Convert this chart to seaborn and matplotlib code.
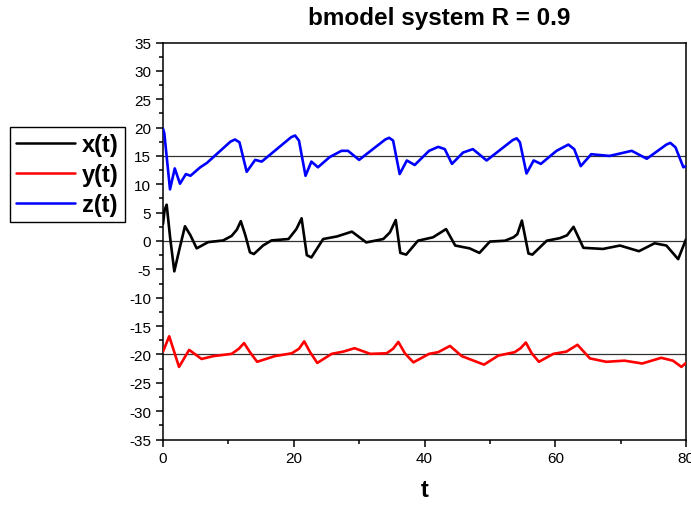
import numpy as np
import pandas as pd
import matplotlib
matplotlib.use("Agg")
import matplotlib.pyplot as plt
import seaborn as sns
from matplotlib.ticker import MultipleLocator

# x(t) readings
x_t = [0, 0.25, 0.56, 1.1, 1.73, 2.5, 3.36, 4.2, 5.15, 6.9, 9.2, 10.5, 11.3, 11.9, 12.6,
       13.3, 13.9, 15.3, 16.6, 19.2, 20.4, 21.2, 22.0, 22.7, 24.5, 26.6, 28.9, 31.1, 33.7,
       34.7, 35.6, 36.3, 37.2, 39.0, 41.3, 43.3, 44.7, 46.9, 48.4, 50.0, 52.3, 53.6, 54.2,
       54.9, 55.9, 56.5, 58.7, 60.7, 61.8, 62.8, 64.3, 67.3, 69.9, 72.8, 75.2, 77.0, 78.8, 80]
x_vals = [3.0, 5.5, 6.4, 0.5, -5.35, -1.5, 2.6, 1.0, -1.3, -0.2, 0.1, 0.9, 2.0, 3.5, 1.0,
          -2.0, -2.3, -0.8, 0.1, 0.35, 2.1, 4.0, -2.5, -2.9, 0.35, 0.8, 1.65, -0.25, 0.35,
          1.5, 3.7, -2.1, -2.4, 0.05, 0.65, 2.1, -0.8, -1.3, -2.1, -0.1, 0.05, 0.65, 1.2,
          3.6, -2.2, -2.4, 0.05, 0.5, 1.0, 2.5, -1.2, -1.4, -0.8, -1.8, -0.4, -0.8, -3.2, 0.3]

# y(t) readings
y_t = [0, 0.95, 2.45, 4.0, 5.9, 7.7, 10.5, 11.6, 12.4, 13.3, 14.4, 17.1, 19.7, 20.8, 21.6,
       22.5, 23.6, 25.8, 27.6, 29.3, 31.7, 34.2, 35.2, 36.0, 37.0, 38.3, 40.7, 42.1, 43.9,
       45.7, 49.1, 51.3, 53.8, 54.7, 55.5, 56.4, 57.5, 59.7, 61.7, 63.4, 65.3, 67.8, 70.6,
       73.3, 76.2, 78.0, 79.3, 80]
y_vals = [-19.5, -16.8, -22.2, -19.2, -20.8, -20.3, -19.9, -19.0, -18.0, -19.6, -21.3, -20.3,
          -19.8, -19.0, -17.7, -19.6, -21.5, -19.9, -19.5, -18.9, -19.9, -19.8, -19.0, -17.8,
          -19.8, -21.4, -19.9, -19.6, -18.5, -20.3, -21.8, -20.2, -19.6, -18.9, -17.9, -19.8,
          -21.3, -19.9, -19.5, -18.3, -20.7, -21.3, -21.1, -21.6, -20.6, -21.1, -22.2, -21.5]

# z(t) readings
z_t = [0, 0.2, 1.07, 1.8, 2.6, 3.5, 4.2, 5.7, 6.7, 10.3, 11.0, 11.7, 12.8, 14.1, 15.1, 19.6,
       20.2, 20.8, 21.8, 22.7, 23.7, 25.5, 27.3, 28.3, 30.0, 31.1, 34.0, 34.6, 35.2, 36.2,
       37.3, 38.5, 40.7, 42.1, 43.1, 44.2, 45.9, 47.4, 49.5, 53.5, 54.1, 54.6, 55.6, 56.7,
       57.8, 60.2, 62.0, 62.9, 63.9, 65.5, 68.3, 71.7, 74.0, 77.0, 77.6, 78.4, 79.6, 80]
z_vals = [19.8, 19.0, 9.1, 12.8, 10.1, 11.8, 11.5, 13.0, 13.75, 17.5, 17.9, 17.4, 12.2, 14.3,
          14.0, 18.3, 18.6, 17.7, 11.5, 14.0, 13.0, 14.8, 15.9, 15.9, 14.3, 15.3, 17.9, 18.2,
          17.7, 11.8, 14.2, 13.4, 15.9, 16.6, 16.2, 13.6, 15.6, 16.2, 14.2, 17.8, 18.1, 17.4,
          11.9, 14.2, 13.6, 15.9, 17.0, 16.2, 13.2, 15.3, 15.0, 15.9, 14.5, 17.0, 17.3, 16.5,
          13.0, 13.2]

ref_levels = [15, 0, -20]

df = pd.concat([
    pd.DataFrame({"t": x_t, "v": x_vals, "s": "x(t)"}),
    pd.DataFrame({"t": y_t, "v": y_vals, "s": "y(t)"}),
    pd.DataFrame({"t": z_t, "v": z_vals, "s": "z(t)"}),
])

sns.set_style("ticks")
plt.rcParams["font.family"] = ["Liberation Sans", "DejaVu Sans"]
plt.rcParams["axes.unicode_minus"] = False
plt.rcParams["text.color"] = "black"
plt.rcParams["xtick.color"] = "black"
plt.rcParams["ytick.color"] = "black"
plt.rcParams["axes.labelcolor"] = "black"

fig = plt.figure(figsize=(6.91, 5.06), dpi=100)
ax = fig.add_axes([163 / 691, 1 - 440.5 / 506, 523 / 691, 397 / 506])

for lv in ref_levels:
    ax.axhline(lv, color="#333333", lw=0.9, zorder=1)

sns.lineplot(data=df, x="t", y="v", hue="s", sort=False, estimator=None,
             palette={"x(t)": "black", "y(t)": "red", "z(t)": "blue"},
             linewidth=1.9, ax=ax, zorder=3)

ax.set_xlim(0, 80)
ax.set_ylim(-35, 35)
ax.xaxis.set_major_locator(MultipleLocator(20))
ax.xaxis.set_minor_locator(MultipleLocator(10))
ax.yaxis.set_major_locator(MultipleLocator(5))
ax.yaxis.set_minor_locator(MultipleLocator(2.5))
ax.tick_params(which="major", direction="out", length=5, width=1.1, labelsize=11,
               color="black", labelcolor="black")
ax.tick_params(which="minor", direction="out", length=3, width=1.1, color="black")
for sp in ax.spines.values():
    sp.set_visible(True)
    sp.set_color("black")
    sp.set_linewidth(1.1)

ax.set_xlabel("t", fontsize=17, fontweight="bold", labelpad=9, color="black")
ax.set_ylabel("")
fig.text(439 / 691, 1 - 18 / 506, "bmodel system R = 0.9", ha="center", va="center",
         fontsize=17.5, fontweight="bold", color="black")

leg = ax.legend(loc="upper left", bbox_to_anchor=(10 / 691, 1 - 128 / 506),
                bbox_transform=fig.transFigure, title=None, frameon=True,
                fancybox=False, edgecolor="black", framealpha=1, borderaxespad=0,
                handlelength=2.5, prop={"weight": "bold", "size": 17},
                labelspacing=0.3, borderpad=0.25, handletextpad=0.3)
leg.get_frame().set_linewidth(1.0)
for txt in leg.get_texts():
    txt.set_color("black")
for h in leg.get_lines():
    h.set_linewidth(1.8)

fig.savefig("out.png", dpi=100)
